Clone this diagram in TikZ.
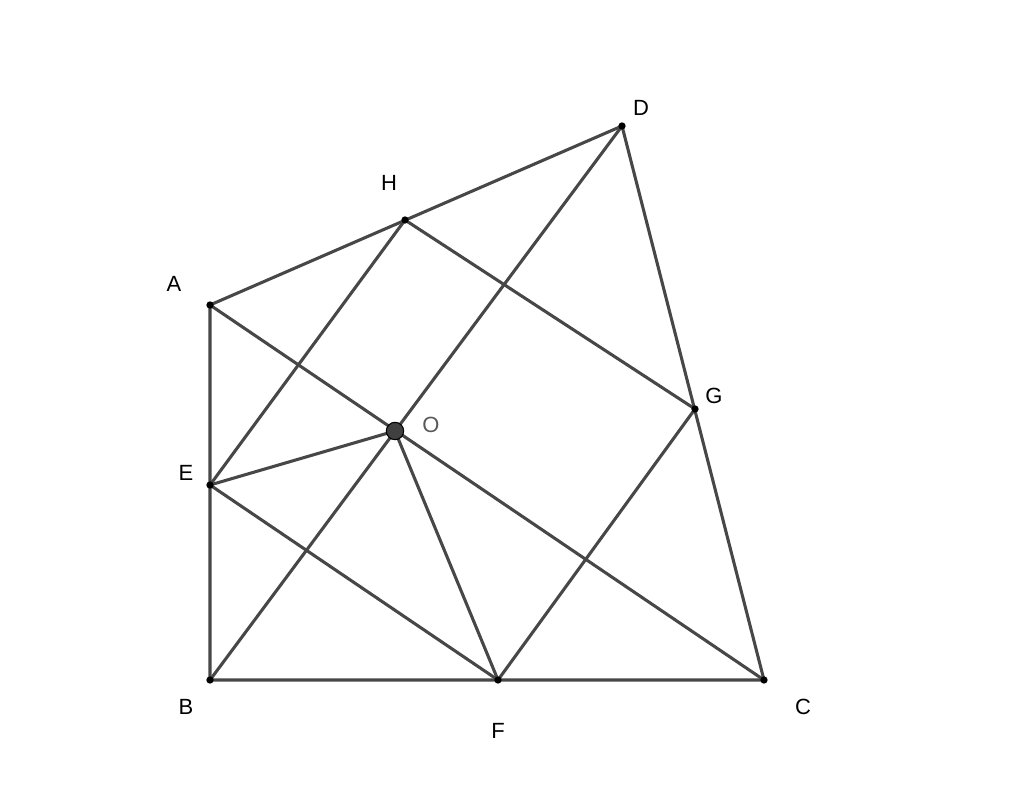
\documentclass[tikz,border=0pt]{standalone}
\usepackage{fontspec}
\setmainfont{Liberation Sans}
\begin{document}
\begin{tikzpicture}[x=0.75pt,y=-0.75pt,
  seg/.style={draw=black!72,line width=2.3pt},
  pt/.style={circle,fill=black,inner sep=0pt,minimum size=5.5pt},
  lab/.style={font=\fontsize{16.5}{18}\selectfont,inner sep=0pt}]
\useasboundingbox[fill=white] (0,0) rectangle (1024,809);
\coordinate (A) at (210,305);
\coordinate (B) at (210,680);
\coordinate (C) at (764,680);
\coordinate (D) at (622,126);
\coordinate (H) at (405,220);
\coordinate (E) at (210,485);
\coordinate (F) at (498,680);
\coordinate (G) at (695,409);
\coordinate (O) at (395,431);
\draw[seg] (A) -- (D) -- (C) -- (B) -- cycle;
\draw[seg] (A) -- (C);
\draw[seg] (B) -- (D);
\draw[seg] (H) -- (E) -- (F) -- (G) -- cycle;
\draw[seg] (E) -- (O) -- (F);
\foreach \p in {A,B,C,D,H,E,F,G} \node[pt] at (\p) {};
\node[circle,fill=black!75,draw=black,line width=0.8pt,inner sep=0pt,minimum size=13pt] (Odot) at (O) {};
\node[lab] (lA) at (174,284) {A};
\node[lab] (lB) at (186,707) {B};
\node[lab] (lC) at (803,707) {C};
\node[lab] (lD) at (641,108) {D};
\node[lab] (lH) at (389,183) {H};
\node[lab] (lE) at (186,473) {E};
\node[lab] (lF) at (498,731) {F};
\node[lab] (lG) at (714,396) {G};
\node[lab,text=black!65] (lO) at (431,425) {O};
\end{tikzpicture}
\end{document}
